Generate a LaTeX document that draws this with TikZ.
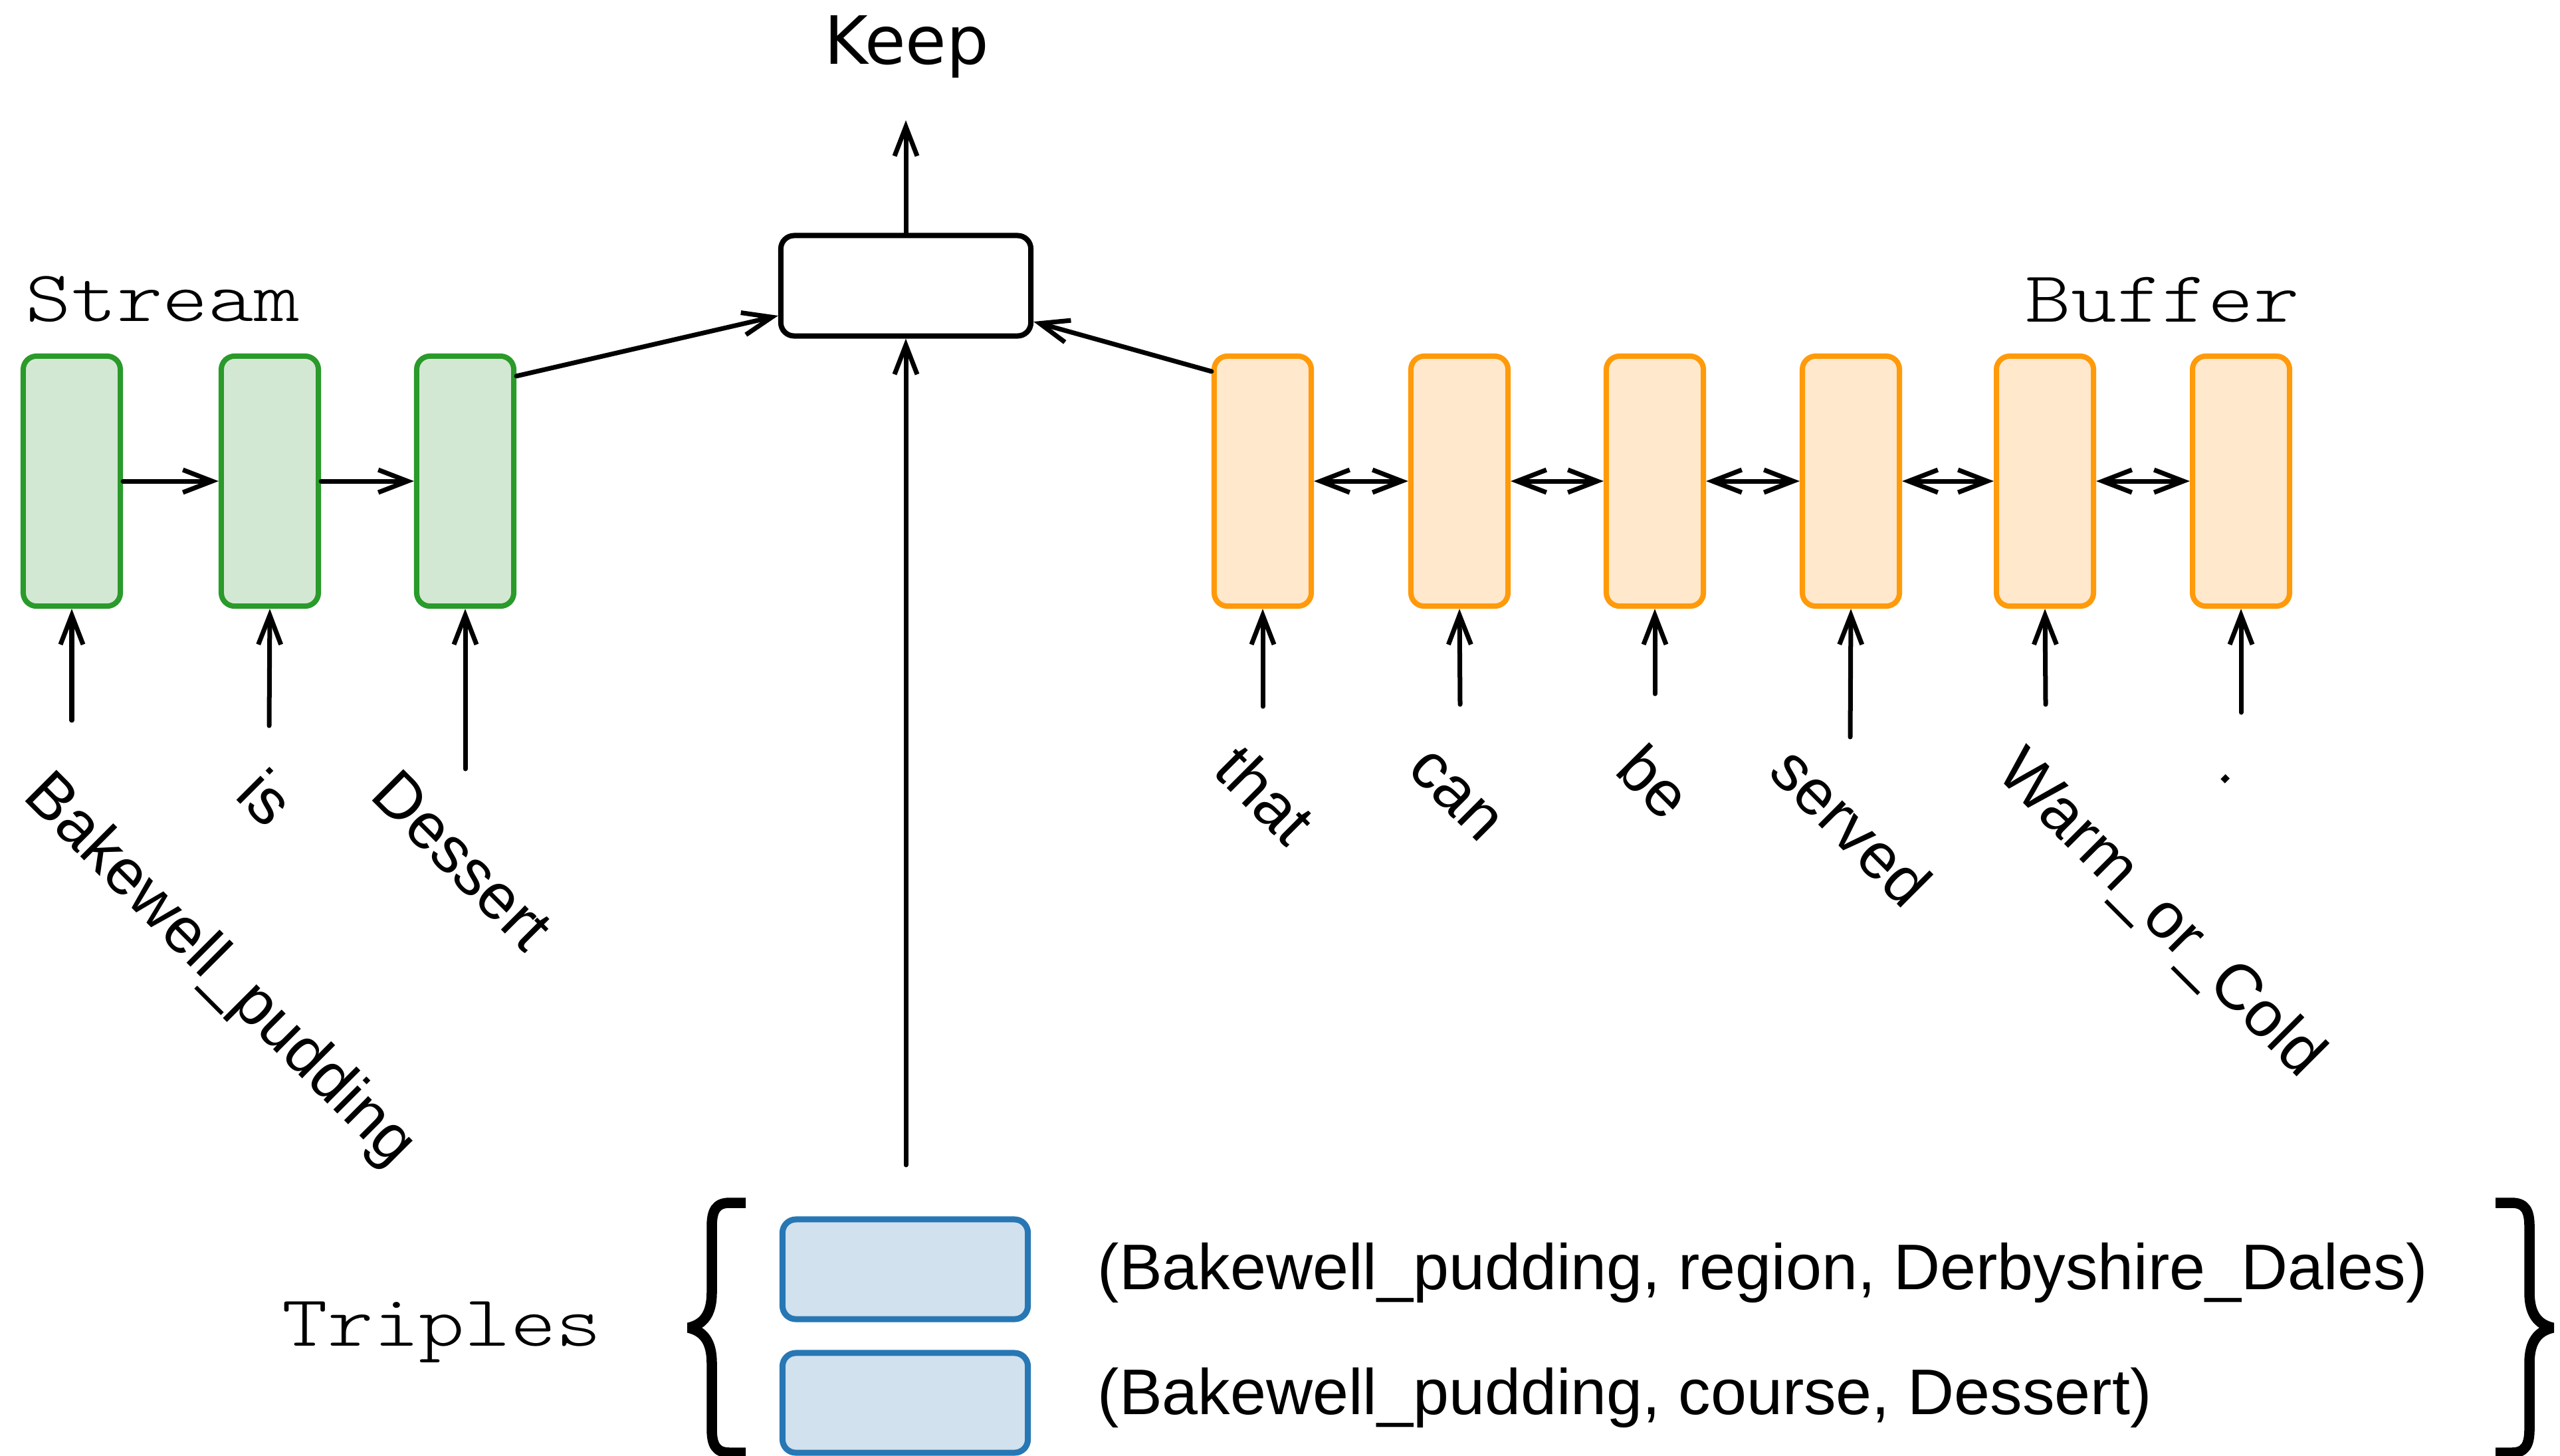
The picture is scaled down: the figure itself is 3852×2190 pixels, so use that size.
\documentclass[tikz,border=0pt]{standalone}
\usepackage{fontspec}
\setmainfont{Liberation Sans}
\newfontfamily\monofont[FakeStretch=1.2]{Latin Modern Mono Light}
\newfontfamily\keepfont{DejaVu Sans}
\usetikzlibrary{arrows.meta}

\definecolor{streamline}{HTML}{2A9A2A}
\definecolor{streamfill}{HTML}{D3E8D3}
\definecolor{bufline}{HTML}{FF9A0A}
\definecolor{buffill}{HTML}{FFE8CC}
\definecolor{tripline}{HTML}{2777B4}
\definecolor{tripfill}{HTML}{D1E1EE}

\tikzset{
  tip/.tip={Straight Barb[length=0.44cm,width=0.34cm]},
  arr/.style={line width=0.07cm, line cap=round, -tip},
  darr/.style={line width=0.07cm, tip-tip},
  cell/.style={line width=0.08cm, rounded corners=0.2cm, inner sep=0,
    minimum width=1.46cm, minimum height=3.76cm},
  streamcell/.style={cell, draw=streamline, fill=streamfill},
  bufcell/.style={cell, draw=bufline, fill=buffill},
  keepbox/.style={draw=black, line width=0.08cm, rounded corners=0.2cm,
    inner sep=0, minimum width=3.76cm, minimum height=1.51cm},
  tripbox/.style={draw=tripline, fill=tripfill, line width=0.09cm,
    rounded corners=0.2cm, inner sep=0, minimum width=3.69cm, minimum height=1.50cm},
  word/.style={inner sep=0, rotate=-45, anchor=base west,
    font=\fontsize{27.6pt}{33pt}\selectfont},
  tripletext/.style={inner sep=0, anchor=base west,
    font=\fontsize{27.6pt}{33pt}\selectfont},
  monolabel/.style={inner sep=0, anchor=base west,
    font=\monofont\fontsize{31pt}{37pt}\selectfont},
  keeplabel/.style={inner sep=0, anchor=base,
    font=\keepfont\fontsize{28.5pt}{34pt}\selectfont},
  brace/.style={line width=0.155cm, line join=bevel}
}

\begin{document}
\begin{tikzpicture}[x=0.01cm, y=-0.01cm]
\useasboundingbox (0,0) rectangle (3852,2190);

% stream cells
\node[streamcell] (s1) at (108,724) {};
\node[streamcell] (s2) at (406,724) {};
\node[streamcell] (s3) at (700,724) {};
\node[monolabel] (stream) at (38,483) {Stream};

% buffer cells
\node[bufcell] (b1) at (1900,724) {};
\node[bufcell] (b2) at (2196,724) {};
\node[bufcell] (b3) at (2490,724) {};
\node[bufcell] (b4) at (2785,724) {};
\node[bufcell] (b5) at (3077,724) {};
\node[bufcell] (b6) at (3372,724) {};
\node[monolabel] (buffer) at (3047,484) {Buffer};

% decision box and its output
\node[keepbox] (keep) at (1363,430) {};
\node[keeplabel] (keeptxt) at (1364,96) {Keep};
\coordinate (keepend) at (1363,181);
\draw[arr] (keep.north) -- (keepend);

% recurrent links
\draw[arr] (s1) -- (s2);
\draw[arr] (s2) -- (s3);
\draw[darr] (b1) -- (b2);
\draw[darr] (b2) -- (b3);
\draw[darr] (b3) -- (b4);
\draw[darr] (b4) -- (b5);
\draw[darr] (b5) -- (b6);

% into the decision box
\draw[arr] ([yshift=-0.34cm]s3.north east) -- ([yshift=-0.45cm]keep.west);
\draw[arr] ([yshift=-0.27cm]b1.north west) -- ([yshift=-0.54cm]keep.east);
\coordinate (tin) at (1363,1753);
\draw[arr] (tin) -- (keep.south);

% token inputs
\coordinate (is1) at (108,1084);
\coordinate (is2) at (405,1092);
\coordinate (is3) at (700,1157);
\draw[arr] (is1) -- (s1.south);
\draw[arr] (is2) -- (s2.south);
\draw[arr] (is3) -- (s3.south);
\coordinate (ib1) at (1900,1063);
\coordinate (ib2) at (2197,1060);
\coordinate (ib3) at (2490,1044);
\coordinate (ib4) at (2784,1109);
\coordinate (ib5) at (3078,1060);
\coordinate (ib6) at (3372,1072);
\draw[arr] (ib1) -- (b1.south);
\draw[arr] (ib2) -- (b2.south);
\draw[arr] (ib3) -- (b3.south);
\draw[arr] (ib4) -- (b4.south);
\draw[arr] (ib5) -- (b5.south);
\draw[arr] (ib6) -- (b6.south);

% tokens
\node[word] (w1) at (32,1200) {Bakewell\_pudding};
\node[word] (w2) at (351,1199) {is};
\node[word] (w3) at (554,1199) {Dessert};
\node[word] (w4) at (1822,1162) {that};
\node[word] (w5) at (2115,1160) {can};
\node[word] (w6) at (2427,1162) {be};
\node[word] (w7) at (2658,1164) {served};
\node[word] (w8) at (3001,1165) {Warm\_or\_Cold};
\node[word] (w9) at (3335,1166) {.};

% triples
\node[monolabel] (triples) at (424,2025) {Triples};
\node[tripbox] (t1) at (1362,1910) {};
\node[tripbox] (t2) at (1362,2111) {};
\node[tripletext] (tt1) at (1651,1940) {(Bakewell\_pudding, region, Derbyshire\_Dales)};
\node[tripletext] (tt2) at (1651,2128) {(Bakewell\_pudding, course, Dessert)};

% braces around the triple set
\draw[brace] (1122,1810) -- (1098,1810)
  .. controls (1077,1810) and (1071,1822) .. (1071,1846) -- (1071,1945)
  .. controls (1071,1978) and (1058,1993) .. (1036,1998)
  .. controls (1058,2003) and (1071,2018) .. (1071,2051) -- (1071,2150)
  .. controls (1071,2174) and (1077,2186) .. (1098,2186) -- (1122,2186);
\draw[brace] (3755,1810) -- (3779,1810)
  .. controls (3800,1810) and (3806,1822) .. (3806,1846) -- (3806,1945)
  .. controls (3806,1978) and (3819,1993) .. (3841,1998)
  .. controls (3819,2003) and (3806,2018) .. (3806,2051) -- (3806,2150)
  .. controls (3806,2174) and (3800,2186) .. (3779,2186) -- (3755,2186);
\end{tikzpicture}
\end{document}
